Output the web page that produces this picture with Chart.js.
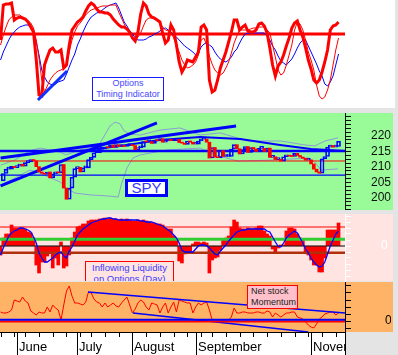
<!DOCTYPE html>
<html><head><meta charset="utf-8">
<script src="https://cdn.jsdelivr.net/npm/chart.js@4.4.0/dist/chart.umd.min.js"></script>
<style>
html,body{margin:0;padding:0;}
body{width:398px;height:355px;background:#e4e4e4;position:relative;overflow:hidden;font-family:"Liberation Sans",Arial,sans-serif;}
.bg,.clip{position:absolute;left:0;}
.clip{overflow:hidden;}
canvas{position:absolute;left:0;}
.box{position:absolute;box-sizing:border-box;text-align:center;white-space:nowrap;}
</style></head><body>
<div class="bg" style="top:0;height:108px;width:395px;background:#ffffff"></div>
<div class="bg" style="top:113px;height:97px;width:393px;background:#98fb98"></div>
<div class="bg" style="top:214px;height:67px;width:393px;background:#ffe4e1"></div>
<div class="bg" style="top:282px;height:50px;width:393px;background:#ffb366"></div>
<div class="bg" style="top:332px;height:23px;width:346px;background:#ffffff"></div>

<canvas id="c1" width="395" height="108" style="top:0"></canvas>
<canvas id="c2" width="391" height="97" style="top:113px"></canvas>
<canvas id="c3" width="391" height="68" style="top:214px"></canvas>
<canvas id="c4" width="391" height="73" style="top:282px"></canvas>

<div class="box" style="left:92px;top:77px;width:72px;height:24px;border:1px solid #1a1aff;background:#fff;color:#4646ff;font-size:9px;line-height:11px;">Options<br>Timing Indicator</div>
<div class="box" style="left:125px;top:179px;width:43px;height:18px;border:3px solid #0000ff;background:#fff;color:#3535ff;font-size:15px;line-height:12px;">SPY</div>
<div class="clip" style="top:214px;height:67px;width:393px;">
  <div class="box" style="left:85px;top:47px;width:89px;height:32px;border:1px solid #ff0000;background:#ffe4e1;color:#3b3bff;font-size:9.5px;line-height:11px;">Inflowing Liquidity<br>on Options (Day)</div>
</div>
<div class="box" style="left:247px;top:285px;width:51px;height:24px;border:1px solid #ff0000;background:#ffc0cb;color:#222;font-size:9px;line-height:11px;text-align:left;padding-left:3px;">Net stock<br>Momentum</div>

<script>
// ---------- categories (trading-day index axis) ----------
const monthNames = ['June', 'July', 'August', 'September', 'November'];
const monthStartIdx = [6, 28, 48, 71, 113];
const weekTickIdx = [0, 5, 9, 14, 19, 24, 29, 33, 38, 43, 48, 53, 58, 63, 68, 73, 77, 82, 87, 92, 97, 102, 107, 112, 117, 122];

// ---------- panel 1: Options Timing Indicator ----------
const timingFast = [60,95,96,96,97,80,82,83,82,81, 78,73,68,40,5,4,35,43,50,52, 48,48,50,32,35,55,70,74,78,80,
  83,89,94,97,95,91,88,88,87,87, 85,81,78,75,73,73,71,68,62,59, 68,86,97,94,86,83,82,80,78,67,
  57,60,75,70,55,38,28,33,40,39, 38,43,48,73,75,70,20,8,10,20, 32,40,48,58,68,80,80,70,73,75,
  69,68,68,70,76,77,74,67,52,35, 24,34,38,45,54,62,72,77,79,70, 63,52,40,31,20,17,20,28,38,50, 70,74,75,78];
const timingMid = [55,65,73,80,83,85,85,85,83,81, 79,77,72,60,42,20,8,14,20,24, 27,29,30,32,35,48,60,68,74,77,
  81,85,88,90,91,92,93,94,94,94, 95,95,95,88,82,76,71,66,61,59, 63,67,74,80,82,82,81,79,77,73,
  70,69,68,62,55,48,40,35,32,33, 35,38,45,60,62,55,44,36,30,27, 25,27,32,38,47,57,64,70,70,70,
  70,71,72,72,73,73,73,70,67,55, 43,30,25,27,35,45,55,70,78,76, 70,60,48,40,30,15,4,1,3,10, 20,35,50,62];
const timingSlow = [40,48,54,60,65,68,71,73,74,75, 75,73,68,58,45,30,23,18,16,15, 16,18,19,20,26,33,40,46,55,61,
  68,74,79,83,85,87,88,90,92,94, 95,96,97,92,85,78,74,69,66,62, 60,60,60,61,63,64,66,67,69,71,
  72,70,68,65,63,60,57,54,52,50, 48,45,47,53,56,57,55,53,48,44, 41,39,38,40,43,48,51,57,62,66,
  67,67,67,67,67,67,67,64,60,54, 50,44,39,37,35,38,41,46,52,57, 60,60,54,48,42,36,29,24,16,14, 18,24,35,46];
const timingLevel = 66;
const timingTrend = [[13.6, 0], [24.2, 29]];

// ---------- panel 2: SPY ----------
const spyClose = [205.5,207.9,209.3,209.3,210.2,209.8,210.3,210.9,210.3,211.4,
  211.7,212.4,212.0,210.1,208.4,208.0,207.7,208.4,206.5,207.8,
  208.4,208.1,210.8,203.2,199.6,203.2,206.7,209.5,209.9,208.4,
  209.7,209.7,212.4,213.1,214.6,214.6,215.7,215.8,216.4,216.2,
  217.1,216.3,217.2,216.6,216.8,216.6,216.9,217.1,216.9,215.6,
  216.2,216.4,218.2,218.1,218.2,217.6,218.6,218.5,219.1,218.0,
  218.4,218.9,218.5,218.5,218.9,217.9,217.7,217.3,218.4,218.0,
  217.4,217.4,218.4,219.0,219.0,218.0,212.9,216.3,213.2,213.0,
  215.3,213.4,213.4,213.4,215.8,217.2,215.9,214.2,215.6,216.6,
  214.7,216.3,215.8,215.0,216.0,216.0,215.0,216.1,213.1,213.3,
  212.4,212.5,211.9,213.3,213.8,213.5,213.4,214.4,213.7,213.2,
  212.8,212.2,212.3,211.0,209.3,208.4,208.0,212.6,213.4,216.4,
  216.9,216.4,216.6,218.3];
const spyUpperBand = [[0,210.6],[5.3,212.3],[10.7,215.2],[14.4,216.1],[18,215.5],[21.7,214.8],[23.8,213.9],[28.9,215.5],[32.6,216.1],[36.2,217.7],[39.8,223.2],[41.7,224.5],[43.5,223.9],[45,221.6],[47.1,220.6],[50.8,220.3],[58,221.9],[65.3,222.6],[72.6,220.3],[79.9,221],[90,218.4],[102,218.4],[110.8,217.1],[114.4,216.8],[118.1,218.4],[122.8,219.4]];
const spyLowerBand = [[0,204.2],[5.3,206.5],[10.7,209],[14.4,208.1],[18,206.5],[21.7,205.2],[23.8,203.2],[27.1,201.6],[32.6,201],[39.8,200.6],[42.8,200.3],[43.9,204.2],[46,209.7],[48.2,212.9],[50.8,213.9],[60.6,215.5],[72.6,216.1],[78,213.9],[86.4,211.9],[101,212.3],[111.9,212.9],[114.4,211.6],[116.6,209],[122.8,209.4]];
const spyAverage = [[28.9,215.2],[43.5,216.8],[58,218.7],[72.6,219.7],[87.2,219.0],[101.7,217.1],[113,215.8],[125.35,215.2]];
const spyTrendA = [[0,203.9],[56.9,224.2]];
const spyTrendB = [[0,212.9],[85.7,223.2]];
const spyLevels = {blueThick: 215.16, red: 211.94, blueThin: 207.4};
const spyTickLabels = [200, 205, 210, 215, 220];

// ---------- panel 3: Inflowing Liquidity ----------
const liquidityBars = [-9,8,12,12,21,18,18,18,18,17, 14,13,8,-19,-27,-16,-16,-10,-7,-22, -12,-19,4,-22,-20,-9,8,14,19,20,
  22,22,25,26,26,26,27,27,28,27, 28,27,27,26,27,26,27,26,25,25, 26,25,26,25,24,23,23,22,22,21,
  18,17,17,10,6,-15,-17,-8,-7,-6, 2,4,4,3,4,3,-27,-14,-12,-11, -4,6,8,10,19,26,24,18,17,17,
  18,17,17,18,20,20,15,12,10,-3, -6,-2,1,1,15,18,18,17,12,8, 6,-7,-9,-14,-19,-19,-26,-26,-12,16, 16,16,16,23];
const liquidityLine = [-9,-2,4,10,13,15,16,18,18,17, 16,14,9,3,-7,-12,-16,-16,-14,-12, -9,-7,-6,-10,-12,-5,-1,5,11,14,
  17,19,21,23,24,25,26,27,27,28, 28,27,27,26,26,26,26,26,26,26, 26,25,25,24,24,24,23,22,21,20,
  18,16,14,11,8,3,-4,-6,-6,-6, -6,-3,0,1,1,0,-2,-5,-8,-9, -5,-2,1,5,8,11,14,15,16,16,
  17,17,17,17,17,17,17,15,14,9, 4,0,-1,3,8,11,13,15,13,8, 3,-3,-7,-12,-16,-19,-21,-20,-16,-8, 0,6,12,15];
const liquidityLevels = {red: 19, green: 6.7, zero: 0, brown: -6.7};
const liquidityTickLabels = [0];

// ---------- panel 4: Net stock Momentum ----------
const momentum = [9,8,8,9,11,21,20,19,24,20, 18,10,8,6,9,8,8,14,9,16, 13,11,1,16,30,35,25,18,18,17,
  16,19,29,28,22,19,18,14,18,14, 16,18,15,14,18,21,24,16,8,12, 18,21,19,14,11,18,17,16,8,14,
  18,8,14,19,9,21,20,19,18,18, 8,14,18,16,18,19,11,1,1,1, 1,1,1,1,4,13,8,8,9,9,
  8,8,8,9,9,8,8,10,9,4, 8,6,4,6,8,8,9,9,4,3, 2,-1,-4,-6,-7,-3,2,4,7,8, 9,9,6,8];
const momentumUpperTrend = [[31.8,29],[125.35,8]];
const momentumLowerTrend = [[48.2,8],[112,-11]];
const momentumLevels = {blue: 1.2, red: -0.5};
const momentumTickLabels = [0];

// ---------- helpers ----------
Chart.defaults.font.family = '"Liberation Sans", Arial, sans-serif';
const X_MIN = -0.2, X_MAX = 125.35;
const xy = arr => arr.map((v, i) => ({x: i, y: v}));
const pts = arr => arr.map(p => ({x: p[0], y: p[1]}));
const hline = v => [{x: X_MIN, y: v}, {x: X_MAX, y: v}];
function lineDS(data, color, width, order, extra) {
  return Object.assign({type: 'line', data, borderColor: color, borderWidth: width, pointRadius: 0,
    fill: false, tension: 0, order, borderCapStyle: 'butt'}, extra || {});
}
function baseOpts(yScale, padRight, padBottom) {
  return {responsive: false, animation: false, events: [],
    layout: {padding: {left: 0, top: 0, right: padRight || 0, bottom: padBottom || 0}},
    plugins: {legend: {display: false}, tooltip: {enabled: false}},
    scales: {x: {type: 'linear', min: X_MIN, max: X_MAX, display: false, offset: false}, y: yScale}};
}
function rightAxis(min, max, tickVals, labels, color, pad) {
  return {type: 'linear', position: 'right', min, max,
    afterBuildTicks(s) { s.ticks = tickVals.map(v => ({value: v})); },
    afterFit(s) { s.width = 46; s.paddingTop = 0; s.paddingBottom = 0; },
    grid: {display: true, drawOnChartArea: false, drawTicks: true, tickLength: 6, color: color, tickColor: color},
    border: {display: true, color: color, width: 1},
    ticks: {autoSkip: false, padding: pad, color: color, font: {size: 12},
      callback: (v) => labels.includes(v) ? String(v) : ''}};
}

// ---------- chart 1 ----------
new Chart(document.getElementById('c1'), {
  type: 'line',
  data: {datasets: [
    lineDS(pts(timingTrend), '#1030ff', 3, 0),
    lineDS(xy(timingFast), '#ff0000', 3, 1),
    lineDS(xy(timingMid), '#ff0000', 1, 2),
    lineDS(xy(timingSlow), '#0000ff', 1, 3),
    lineDS(hline(timingLevel), '#ff0000', 3, 4)
  ]},
  options: baseOpts({min: -8, max: 100, display: false}, 50)
});

// ---------- chart 2 ----------
const upBodies = [], downBodies = [];
for (let i = 1; i < spyClose.length; i++) {
  const a = spyClose[i - 1], b = spyClose[i];
  (b >= a ? upBodies : downBodies).push({x: i, y: [Math.min(a, b), Math.max(a, b)]});
}
const priceTicks = [];
for (let v = 196.25; v <= 227.3; v += 1.25) priceTicks.push(v);
new Chart(document.getElementById('c2'), {
  type: 'line',
  data: {datasets: [
    {type: 'bar', data: downBodies, backgroundColor: '#ff0000', borderWidth: 0, barThickness: 3, minBarLength: 1, grouped: false, order: 0},
    {type: 'bar', data: upBodies, backgroundColor: 'rgba(0,0,0,0)', borderColor: '#0000ff', borderWidth: 1, borderSkipped: false, barThickness: 4, minBarLength: 2, grouped: false, order: 1},
    lineDS(pts(spyTrendA), '#0000ff', 3, 2),
    lineDS(pts(spyTrendB), '#0000ff', 3, 3),
    lineDS(hline(spyLevels.blueThick), '#0000ff', 2.5, 4),
    lineDS(hline(spyLevels.red), '#ff0000', 1, 5),
    lineDS(hline(spyLevels.blueThin), '#0000ff', 1.2, 6),
    lineDS(pts(spyAverage), '#0000ff', 2, 7),
    lineDS(pts(spyUpperBand), '#8c9bd6', 1, 8),
    lineDS(pts(spyLowerBand), '#8c9bd6', 1, 9)
  ]},
  options: baseOpts(rightAxis(196.13, 227.42, priceTicks, spyTickLabels, '#111111', 20))
});

// ---------- chart 3 ----------
const liqTicks = [-30, -24, -18, -12, -6, 0, 6, 12, 18, 24, 30];
new Chart(document.getElementById('c3'), {
  type: 'line',
  data: {datasets: [
    lineDS(xy(liquidityLine), '#0000ff', 1.3, 0),
    lineDS(hline(liquidityLevels.green), '#33cc33', 3, 1),
    lineDS(hline(liquidityLevels.zero), '#000000', 1, 2),
    lineDS(hline(liquidityLevels.brown), '#b0300c', 2.5, 3),
    lineDS(hline(liquidityLevels.red), '#ff0000', 1, 4),
    {type: 'bar', data: xy(liquidityBars), backgroundColor: '#ff0000', borderWidth: 0, barThickness: 3, grouped: false, order: 5}
  ]},
  options: baseOpts(rightAxis(-36, 32, liqTicks, liquidityTickLabels, '#ffffff', 30))
});

// ---------- chart 4 + date axis ----------
const momTicks = [-7, 0, 7, 14, 21, 28, 35];
const dateAxisPlugin = {
  id: 'dateAxis',
  afterDraw(chart) {
    const ctx = chart.ctx, xs = chart.scales.x;
    const top = chart.chartArea.bottom, right = chart.chartArea.right, h = 23;
    ctx.save();
    ctx.beginPath(); ctx.rect(0, top, right + 1, h); ctx.clip();
    ctx.strokeStyle = '#000'; ctx.lineWidth = 1;
    ctx.beginPath();
    ctx.moveTo(0, top + 0.5); ctx.lineTo(right, top + 0.5);
    ctx.moveTo(right + 0.5, top); ctx.lineTo(right + 0.5, top + h);
    weekTickIdx.forEach(i => { const x = Math.round(xs.getPixelForValue(i)) + 0.5; ctx.moveTo(x, top); ctx.lineTo(x, top + 5); });
    monthStartIdx.forEach(i => { const x = Math.round(xs.getPixelForValue(i)) + 0.5; ctx.moveTo(x, top); ctx.lineTo(x, top + h); });
    ctx.stroke();
    ctx.fillStyle = '#000'; ctx.font = '13px "Liberation Sans", Arial, sans-serif';
    ctx.textBaseline = 'middle'; ctx.textAlign = 'left';
    monthStartIdx.forEach((i, k) => { const x = Math.round(xs.getPixelForValue(i)); ctx.fillText(monthNames[k], x + 2, top + 15); });
    ctx.restore();
  }
};
new Chart(document.getElementById('c4'), {
  type: 'line',
  data: {datasets: [
    lineDS(hline(momentumLevels.blue), '#0000ff', 2, 0),
    lineDS(hline(momentumLevels.red), '#ff0000', 2, 1),
    lineDS(pts(momentumUpperTrend), '#0000ff', 1.5, 2),
    lineDS(pts(momentumLowerTrend), '#0000ff', 1.5, 3),
    lineDS(xy(momentum), '#ff0000', 1, 4)
  ]},
  options: baseOpts(rightAxis(-11, 39, momTicks, momentumTickLabels, '#000000', 34), 0, 23),
  plugins: [dateAxisPlugin]
});
</script>
</body></html>
